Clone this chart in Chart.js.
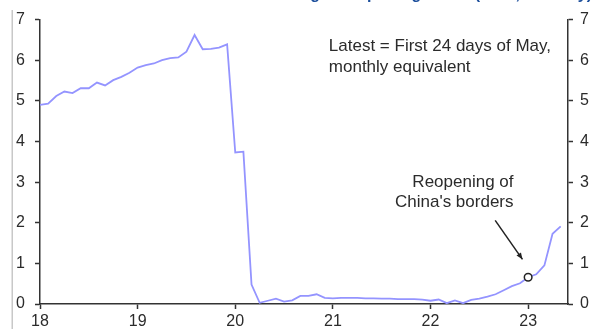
<!DOCTYPE html>
<html>
<head>
<meta charset="utf-8">
<script src="https://cdn.jsdelivr.net/npm/chart.js@4/dist/chart.umd.min.js"></script>
<style>
  html, body { margin: 0; padding: 0; background: #fff; overflow: hidden; }
  #wrap { position: relative; width: 602px; height: 329px; overflow: hidden; }
  #title { position: absolute; right: 10px; top: -15.5px; font: bold 16px/18px "Liberation Sans", Arial, sans-serif;
           color: #1d4f9c; white-space: nowrap; }
  canvas { position: absolute; left: 0; top: 0; }
</style>
</head>
<body>
<div id="wrap">
  <canvas id="c" width="602" height="329"></canvas>
  <div id="title">International flights departing China (000s, monthly)</div>
</div>
<script>
// Monthly series, Jan 2018 – May 2023
const months = [];
for (let i = 0; i < 65; i++) months.push(i);

const values = [
  4.90, 4.93, 5.12, 5.23, 5.19, 5.31, 5.31, 5.45, 5.38, 5.51, 5.59, 5.69,
  5.82, 5.88, 5.92, 6.00, 6.05, 6.07, 6.21, 6.62, 6.27, 6.28, 6.31, 6.39,
  3.73, 3.75, 0.48, 0.03, 0.08, 0.13, 0.06, 0.09, 0.20, 0.20, 0.24, 0.15,
  0.14, 0.15, 0.15, 0.15, 0.14, 0.14, 0.13, 0.13, 0.12, 0.12, 0.12, 0.11,
  0.08, 0.11, 0.02, 0.09, 0.02, 0.10, 0.13, 0.18, 0.24, 0.34, 0.44, 0.51,
  0.66, 0.73, 0.95, 1.73, 1.91
];

const yearTicks = [0, 12, 24, 36, 48, 60];          // month index of each January
const yearLabels = ['18', '19', '20', '21', '22', '23'];
const yTicks = [0, 1, 2, 3, 4, 5, 6, 7];

// Reopening marker (Jan 2023) and annotation text
const reopenIndex = 60;
const noteLatest = ['Latest = First 24 days of May,', 'monthly equivalent'];
const noteReopen = ['Reopening of', "China's borders"];

const axisColor = '#333333';
const textColor = '#2b2b2b';
const font = { family: '"Liberation Sans", Arial, sans-serif', size: 16 };

function yAxis(position, padding, width) {
  return {
    position,
    min: 0, max: 7,
    afterBuildTicks: s => { s.ticks = yTicks.map(v => ({ value: v })); },
    ticks: { color: textColor, font, padding },
    grid: { drawOnChartArea: false, drawTicks: true, tickLength: 5, tickColor: axisColor, tickWidth: 1.5 },
    border: { color: axisColor, width: 1.5 },
    afterFit: s => { s.width = width; }
  };
}

const annotations = {
  id: 'annotations',
  beforeDraw(chart) {
    const ctx = chart.ctx;
    ctx.save();
    ctx.fillStyle = '#c8c8c8';
    ctx.fillRect(11.5, 10, 1.5, 319);
    ctx.restore();
  },
  afterDatasetsDraw(chart) {
    const { ctx, scales: { x, y } } = chart;
    ctx.save();
    ctx.fillStyle = textColor;
    ctx.font = '17px "Liberation Sans", Arial, sans-serif';
    ctx.textBaseline = 'middle';

    ctx.textAlign = 'left';
    ctx.fillText(noteLatest[0], x.getPixelForValue(35.5), y.getPixelForValue(6.34));
    ctx.fillText(noteLatest[1], x.getPixelForValue(35.5), y.getPixelForValue(5.83));

    ctx.textAlign = 'right';
    ctx.fillText(noteReopen[0], x.getPixelForValue(58.2), y.getPixelForValue(2.99));
    ctx.fillText(noteReopen[1], x.getPixelForValue(58.2), y.getPixelForValue(2.50));

    // arrow pointing at the reopening point
    const x0 = x.getPixelForValue(55.95), y0 = y.getPixelForValue(2.06);
    const x1 = x.getPixelForValue(59.3), y1 = y.getPixelForValue(1.10);
    ctx.strokeStyle = '#222';
    ctx.lineWidth = 1.5;
    ctx.beginPath(); ctx.moveTo(x0, y0); ctx.lineTo(x1, y1); ctx.stroke();
    const ang = Math.atan2(y1 - y0, x1 - x0);
    ctx.fillStyle = '#222';
    ctx.beginPath();
    ctx.moveTo(x1, y1);
    ctx.lineTo(x1 - 7 * Math.cos(ang - 0.4), y1 - 7 * Math.sin(ang - 0.4));
    ctx.lineTo(x1 - 7 * Math.cos(ang + 0.4), y1 - 7 * Math.sin(ang + 0.4));
    ctx.closePath(); ctx.fill();

    // circle on the reopening month
    ctx.beginPath();
    ctx.arc(x.getPixelForValue(reopenIndex), y.getPixelForValue(values[reopenIndex]), 3.8, 0, Math.PI * 2);
    ctx.fillStyle = '#fff';
    ctx.fill();
    ctx.lineWidth = 1.5;
    ctx.strokeStyle = '#222';
    ctx.stroke();
    ctx.restore();
  }
};

new Chart(document.getElementById('c'), {
  type: 'line',
  data: {
    datasets: [{
      data: months.map((m, i) => ({ x: m, y: values[i] })),
      borderColor: '#9494ff',
      borderWidth: 1.8,
      pointRadius: 0,
      tension: 0,
      fill: false
    }]
  },
  options: {
    responsive: false,
    animation: false,
    events: [],
    layout: { padding: { top: 18, left: 0, right: 0, bottom: 0 } },
    plugins: { legend: { display: false }, tooltip: { enabled: false } },
    scales: {
      x: {
        type: 'linear',
        min: 0, max: 64.9,
        afterBuildTicks: s => { s.ticks = yearTicks.map(v => ({ value: v })); },
        ticks: {
          color: textColor, font, padding: 3, maxRotation: 0,
          callback: v => yearLabels[yearTicks.indexOf(v)]
        },
        grid: { drawOnChartArea: false, drawTicks: true, tickLength: 5, tickColor: axisColor, tickWidth: 1.5 },
        border: { color: axisColor, width: 1.5 },
        afterFit: s => { s.height = 25; }
      },
      y: yAxis('left', 10, 40),
      y2: yAxis('right', 7, 34)
    }
  },
  plugins: [annotations]
});
</script>
</body>
</html>
